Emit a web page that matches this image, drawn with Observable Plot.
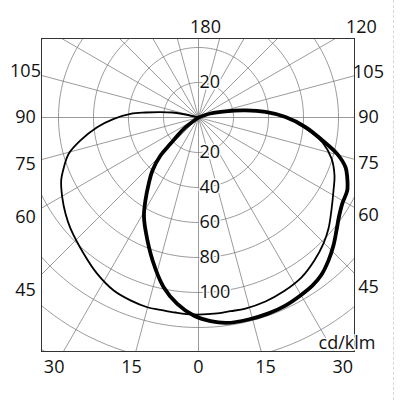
<!DOCTYPE html>
<html>
<head>
<meta charset="utf-8">
<script src="https://cdn.jsdelivr.net/npm/d3@7"></script>
<script src="https://cdn.jsdelivr.net/npm/@observablehq/plot@0.6"></script>
<style>
  body { margin: 0; background: #fff; }
  #chart { position: relative; width: 400px; height: 400px; }
  #edge { position: absolute; left: 393px; top: 0; height: 400px; border-left: 1px dashed #d8d8d8; }
</style>
</head>
<body>
<div id="chart"><div id="edge"></div></div>
<script>
// Thin curve: angle from nadir (deg, + right / - left) and intensity (cd/klm)
const thinAngles = [-108, -103.0, -100.9, -98.2, -95.4, -93.1, -89.1, -84.5, -79.0, -74.4, -69.7, -65.4, -59.7, -54.1, -49.1, -40.1, -33.0, -26.1, -20.4, -15.1, -11.2, -6.7, -1.5, 5.5, 9.4, 13.8, 20.0, 26.0, 32.8, 39.0, 44.8, 49.5, 55.0, 61.6, 66.9, 72.9, 78.6, 83.3, 90.3, 94.7, 98.5, 102.9, 108.4, 110];
const thinValues = [0, 7.6, 15.1, 21.9, 30.4, 38.9, 48.4, 58.2, 68.7, 77.0, 82.0, 86.3, 90.2, 93.8, 96.8, 101.8, 106.4, 110.1, 111.5, 112.3, 112.0, 112.2, 112.6, 112.5, 112.2, 112.4, 111.9, 110.7, 108.7, 105.2, 101.4, 97.7, 92.7, 87.7, 84.5, 79.5, 72.3, 63.3, 49.7, 38.4, 27.2, 15.8, 7.2, 0];

// Thick curve
const thickAngles = [-55, -52.4, -46.8, -45, -41.0, -36.9, -32.6, -29.1, -25.1, -17.8, -11.6, -6.5, -1.4, 3.4, 7.8, 13.9, 19.7, 24.8, 29.8, 34.2, 38.1, 42.3, 46.5, 50.7, 54.6, 59.0, 63.8, 68.1, 71.3, 75.3, 79.5, 84.9, 90.3, 94.7, 98.5, 102.9, 108.4, 110];
const thickValues = [0, 10.6, 22.0, 30.7, 40.1, 47.4, 56.3, 64.1, 71.3, 85.8, 99.0, 107.2, 113.2, 116.6, 118.5, 118.9, 118.9, 118.4, 117.2, 116.0, 114.0, 110.4, 106.3, 101.9, 98.4, 95.8, 94.7, 91.6, 88.7, 81.9, 72.1, 61.4, 49.7, 38.4, 27.2, 15.8, 7.2, 0];

// Grid and labels
const ringValues = [20, 40, 60, 80, 100, 120, 140, 160];
const rayAngles = d3.range(0, 360, 15);
const radialLabelsUp = [20];
const radialLabelsDown = [20, 40, 60, 80, 100];
const sideAngles = [105, 90, 75, 60, 45];
const bottomAngles = [-30, -15, 0, 15, 30];
const topAngles = [180, 120];
const unitLabel = "cd/klm";

// Layout (pixels)
const W = 400, H = 400;
const mL = 41, mR = 46, mT = 38, mB = 49;
const cx = 198, cy = 117, k = 1.75; // centre and px per cd/klm
const toX = px => (px - cx) / k;
const toY = py => (cy - py) / k;

const rad = a => a * Math.PI / 180;
const polar = (a, r) => ({x: r * Math.sin(rad(a)), y: -r * Math.cos(rad(a))});

const thin = thinAngles.map((a, i) => polar(a, thinValues[i]));
const thick = thickAngles.map((a, i) => polar(a, thickValues[i]));

const rings = ringValues.flatMap(r => d3.range(0, 361, 2).map(a => ({r, ...polar(a, r)})));
const rays = rayAngles.map(a => ({a, ...polar(a, 300)}));

// ray hitting a vertical line x=X or horizontal line y=Y
const atX = (a, X) => { const t = X / Math.sin(rad(a)); return {x: X, y: -t * Math.cos(rad(a))}; };
const atY = (a, Y) => { const t = -Y / Math.cos(rad(a)); return {x: t * Math.sin(rad(a)), y: Y}; };

const leftLab = sideAngles.map(a => ({label: String(a), ...atX(-a, toX(25))}));
const rightLab = sideAngles.map(a => ({label: String(a), ...atX(a, toX(368))}));
const bottomLab = bottomAngles.map(a => ({label: String(Math.abs(a)), ...atY(a, toY(367))}));
const topLab = topAngles.map(a => ({label: String(a), ...atY(a, toY(27))}));
const radLab = [
  ...radialLabelsUp.map(r => ({label: String(r), x: 0, y: r})),
  ...radialLabelsDown.map(r => ({label: String(r), x: 0, y: -r}))
];

const font = "'Open Sans', 'Noto Sans', sans-serif";

const chart = Plot.plot({
  width: W, height: H,
  marginLeft: mL, marginRight: mR, marginTop: mT, marginBottom: mB,
  x: {domain: [toX(mL), toX(W - mR)], axis: null},
  y: {domain: [toY(H - mB), toY(mT)], axis: null},
  style: {background: "white", fontFamily: font, color: "#111"},
  marks: [
    Plot.line(rings, {x: "x", y: "y", z: "r", stroke: "#7a7a7a", strokeWidth: 0.75, clip: true}),
    Plot.link(rays, {x1: 0, y1: 0, x2: "x", y2: "y", stroke: "#7a7a7a", strokeWidth: 0.75, clip: true}),
    Plot.text(radLab, {x: "x", y: "y", text: "label", textAnchor: "start", dx: 1, fontSize: 18, fill: "#111", stroke: "white", strokeWidth: 3}),
    Plot.line(thin, {x: "x", y: "y", curve: "catmull-rom", stroke: "#000", strokeWidth: 1.8, clip: true}),
    Plot.line(thick, {x: "x", y: "y", curve: "catmull-rom", stroke: "#000", strokeWidth: 3.8, clip: true}),
    Plot.frame({stroke: "#333", strokeWidth: 1}),
    Plot.text([unitLabel], {frameAnchor: "bottom-right", textAnchor: "end", lineAnchor: "middle", dx: 21, dy: -8, fontSize: 18, fill: "#111", stroke: "white", strokeWidth: 3}),
    Plot.text(leftLab, {x: "x", y: "y", text: "label", fontSize: 18, fill: "#111"}),
    Plot.text(rightLab, {x: "x", y: "y", text: "label", fontSize: 18, fill: "#111"}),
    Plot.text(bottomLab, {x: "x", y: "y", text: "label", fontSize: 18, fill: "#111"}),
    Plot.text(topLab, {x: "x", y: "y", text: "label", dx: 7, fontSize: 18, fill: "#111"})
  ]
});
document.getElementById("chart").prepend(chart);
</script>
</body>
</html>
